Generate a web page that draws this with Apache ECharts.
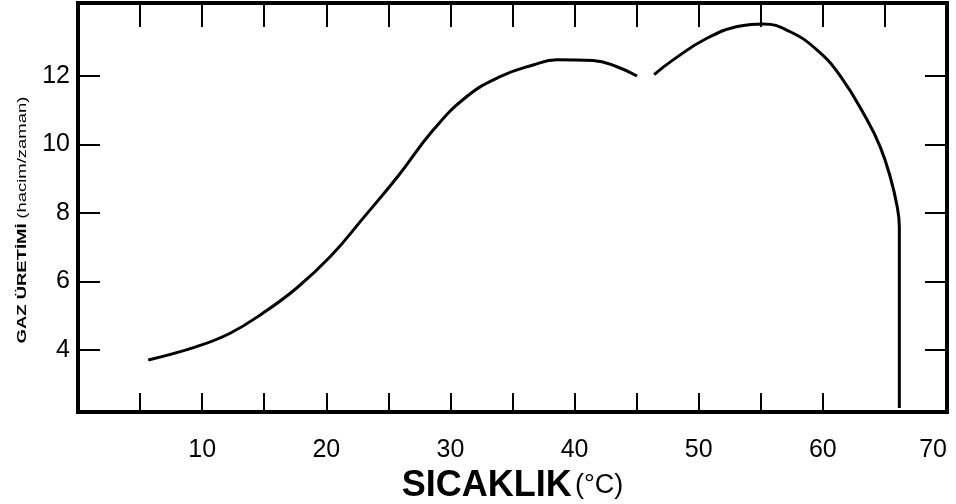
<!DOCTYPE html>
<html>
<head>
<meta charset="utf-8">
<script src="https://cdn.jsdelivr.net/npm/echarts@6/dist/echarts.min.js"></script>
<style>html,body{margin:0;padding:0;background:#fff}#c{width:956px;height:504px}</style>
</head>
<body>
<div id="c"></div>
<script>
// Data (temperature °C vs gas production)
const seg1X = [5.66, 9.56, 12.25, 14.91, 17.62, 20.31, 22.97, 25.79, 28.61, 31.32, 34.0, 36.66, 38.57, 41.5, 43.41, 45.03];
const seg1Y = [3.71, 4.10, 4.49, 5.08, 5.81, 6.72, 7.85, 9.08, 10.42, 11.40, 11.98, 12.32, 12.47, 12.45, 12.27, 12.0];
const seg2X = [46.41, 47.94, 50.66, 53.34, 55.2, 57.37, 59.52, 61.4, 63.56, 64.62, 65.43, 65.99, 66.16, 66.16];
const seg2Y = [12.04, 12.47, 13.10, 13.46, 13.52, 13.29, 12.76, 12.0, 10.72, 9.93, 9.05, 8.18, 7.59, 2.31];
const xLabels = [10, 20, 30, 40, 50, 60, 70];
const xBottomTicks = [5, 10, 15, 20, 25, 30, 35, 40, 45, 50, 55, 60];
const xTopTicks = [5, 10, 15, 20, 25, 30, 35, 40, 45, 50, 55, 60, 65];
const yLabels = [4, 6, 8, 10, 12];
const xName = 'SICAKLIK';
const xUnit = '(°C)';
const yNameBold = 'GAZ ÜRETİMİ';
const yNameRest = '(hacim/zaman)';

const pair = (xs, ys) => xs.map((x, i) => [x, ys[i]]);
const sans = "'Liberation Sans', Arial, sans-serif";

const chart = echarts.init(document.getElementById('c'), null, {renderer: 'canvas'});
const lineStyle = {color: '#000', width: 3};
const noLine = {show: false, onZero: false};
chart.setOption({
  animation: false,
  backgroundColor: '#fff',
  grid: {left: 78, right: 9, top: 3, bottom: 92, show: true, borderColor: '#000', borderWidth: 4,
         backgroundColor: 'transparent', containLabel: false, outerBoundsMode: 'none'},
  xAxis: [
    {
      type: 'value', position: 'bottom', min: 0, max: 70,
      axisLine: noLine, splitLine: {show: false},
      axisTick: {show: true, inside: true, length: 19, customValues: xBottomTicks, lineStyle: {color: '#000', width: 2}},
      axisLabel: {customValues: xLabels, margin: 26, color: '#000', fontSize: 25, fontFamily: sans, alignMaxLabel: 'right'},
      name: '{b|' + xName + '} {n|' + xUnit + '}',
      nameLocation: 'middle', nameGap: 56,
      nameTextStyle: {rich: {
        b: {fontSize: 36, fontWeight: 'bold', fontFamily: sans, color: '#000'},
        n: {fontSize: 27, fontFamily: sans, color: '#000'}
      }}
    },
    {
      type: 'value', position: 'top', min: 0, max: 70,
      axisLine: noLine, splitLine: {show: false},
      axisTick: {show: true, inside: true, length: 24, customValues: xTopTicks, lineStyle: {color: '#000', width: 2}},
      axisLabel: {show: false}
    }
  ],
  yAxis: [
    {
      type: 'value', position: 'left', min: 2.19, max: 14.13,
      axisLine: noLine, splitLine: {show: false},
      axisTick: {show: true, inside: true, length: 22, customValues: yLabels, lineStyle: {color: '#000', width: 2}},
      axisLabel: {customValues: yLabels, margin: 8, color: '#000', fontSize: 25, fontFamily: sans}
    },
    {
      type: 'value', position: 'right', min: 2.19, max: 14.13,
      axisLine: noLine, splitLine: {show: false},
      axisTick: {show: true, inside: true, length: 22, customValues: yLabels, lineStyle: {color: '#000', width: 2}},
      axisLabel: {show: false}
    }
  ],
  graphic: [{
    type: 'text', x: 22, y: 220, rotation: Math.PI / 2, scaleX: 1.42, scaleY: 1,
    style: {
      text: '{b|' + yNameBold + '} {n|' + yNameRest + '}',
      align: 'center', verticalAlign: 'middle',
      rich: {
        b: {fontSize: 13, fontWeight: 'bold', fontFamily: sans, fill: '#000'},
        n: {fontSize: 13, fontFamily: sans, fill: '#000'}
      }
    }
  }],
  series: [
    {type: 'line', data: pair(seg1X, seg1Y), smooth: 0.45, showSymbol: false, lineStyle: lineStyle, clip: false},
    {type: 'line', data: pair(seg2X, seg2Y), smooth: 0.45, showSymbol: false, lineStyle: lineStyle, clip: false}
  ]
});
</script>
</body>
</html>
